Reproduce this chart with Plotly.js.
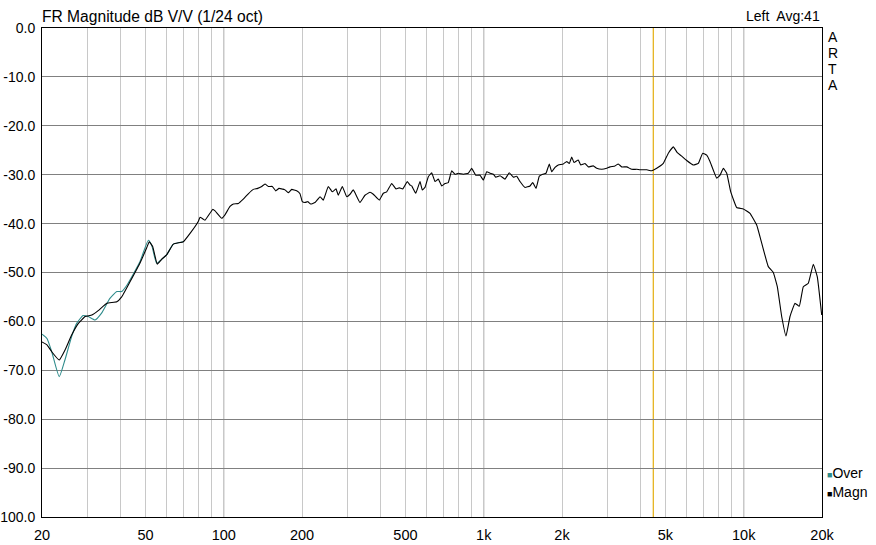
<!DOCTYPE html>
<html>
<head>
<meta charset="utf-8">
<script src="https://cdn.plot.ly/plotly-3.0.1.min.js"></script>
<style>html,body{margin:0;padding:0;background:#fff}#chart{width:876px;height:545px}</style>
</head>
<body>
<div id="chart"></div>
<script>
// Teal "Over" curve (Hz, dB) – only visible where it departs from Magn
const overFreq = [20, 20.9, 21.8, 23.3, 24.5, 26.0, 27.2, 28.8, 30.1, 32.0, 33.9, 36.5, 38.8, 40.5, 42.4, 47.6, 51.3, 52.8, 55.2, 57.7, 60.3, 64.0, 69.9];
const overDb = [-62.6, -63.5, -66.2, -71.3, -67.9, -63.1, -60.4, -58.8, -59.0, -59.7, -58.3, -55.3, -53.9, -53.9, -52.6, -47.8, -43.4, -44.4, -48.1, -47.3, -46.4, -44.2, -43.7];

// Black "Magn" curve (Hz, dB)
const magnFreq = [
  20, 20.9, 21.8, 23.3, 24.5, 26.0, 27.6, 29.3, 31.1, 32.9, 35.5, 38.8, 40.5, 43.6, 47.6, 50.5, 51.7, 53.3, 55.5, 57.7, 60.3, 64.0, 69.9, 74.2, 79.9,
  81.1, 84.7, 90.7, 92.6, 98.2, 101.1, 105.7, 108.9, 113.8, 118.9, 124.3, 129.9, 135.1, 140.0, 144.1, 148.4, 153.8, 158.4, 163.1, 167.1, 172.0, 177.1, 182.6, 190.8, 196.5,
  200.5, 205.4, 210.4, 216.0, 224.4, 234.6, 241.5, 252.4, 261.5, 270.3, 275.8, 285.8, 297.1, 306.0, 315.0, 334.3, 349.4, 365.3, 376.1, 396.7, 411.0, 423.6, 442.6, 459.8, 473.5, 487.9,
  508.2, 520.4, 528.4, 547.6, 568.8, 580.4, 594.4, 612.2, 630.9, 649.6, 668.9, 689.3, 709.6, 730.6, 752.9, 775.2, 798.4, 834.4, 872.1, 898.8, 931.4, 967.5, 996.4,
  1027, 1057, 1089, 1112, 1155, 1207, 1254, 1300, 1339, 1379, 1441, 1507, 1543, 1589, 1636, 1686, 1736, 1787, 1826, 1880, 1935,
  2023, 2085, 2134, 2180, 2224, 2310, 2361, 2452, 2524, 2638, 2720, 2843, 2972, 3060, 3198, 3292, 3393, 3547, 3708, 3876, 3991, 4236, 4426, 4627, 4904,
  5128, 5361, 5553, 5773, 6035, 6398, 6688, 6954, 7205, 7417, 7871, 8107, 8346, 8602, 8913, 9395, 9963,
  10570, 11216, 11726, 12431, 12995, 13463, 13996, 14540, 15066, 15748, 16358, 16948, 17716, 18518, 19186, 19947];
const magnDb = [
  -64.2, -64.8, -66.2, -67.9, -65.9, -62.8, -60.4, -59.0, -58.7, -57.8, -56.3, -56.0, -55.0, -51.9, -48.1, -45.0, -43.7, -44.7, -48.3, -47.3, -46.4, -44.2, -43.7, -42.0, -39.5,
  -38.7, -39.3, -37.1, -37.4, -38.9, -38.2, -36.5, -36.0, -35.9, -35.0, -33.9, -33.0, -32.8, -32.4, -31.9, -32.4, -32.4, -33.3, -32.8, -32.9, -33.1, -33.7, -33.0, -33.3, -33.9,
  -35.5, -35.7, -35.5, -36.0, -35.7, -34.5, -35.2, -32.4, -33.5, -32.9, -34.2, -32.4, -34.5, -34.0, -33.1, -35.7, -34.2, -33.6, -34.0, -35.2, -33.8, -33.5, -31.8, -32.9, -32.7, -32.9,
  -31.4, -32.1, -32.3, -33.8, -31.4, -33.1, -32.6, -30.4, -29.6, -31.4, -30.9, -32.3, -31.8, -31.6, -29.2, -29.9, -29.7, -29.9, -29.7, -28.7, -30.1, -30.1, -31.1,
  -29.4, -29.7, -29.9, -30.5, -30.2, -30.9, -29.6, -30.5, -30.3, -31.4, -32.6, -32.3, -31.6, -32.8, -30.3, -29.9, -29.7, -27.8, -29.4, -28.5, -28.0,
  -27.8, -27.3, -27.7, -26.4, -27.5, -27.0, -28.0, -27.7, -28.4, -28.2, -28.7, -28.9, -28.7, -28.4, -28.2, -27.8, -28.4, -28.4, -28.9, -28.9, -29.0, -29.0, -29.2, -28.7, -27.7,
  -25.6, -24.3, -25.5, -26.2, -27.1, -28.0, -27.7, -25.6, -26.0, -27.3, -30.7, -30.1, -28.7, -29.7, -33.5, -36.7, -37.0,
  -37.9, -40.3, -44.0, -48.8, -50.0, -52.9, -59.0, -63.0, -59.0, -56.3, -56.9, -52.9, -52.2, -48.3, -50.9, -58.7];

const xTickVals = [20, 50, 100, 200, 500, 1000, 2000, 5000, 10000, 20000];
const xTickText = ['20', '50', '100', '200', '500', '1k', '2k', '5k', '10k', '20k'];
const xMinorVals = [30, 40, 60, 70, 80, 90, 300, 400, 600, 700, 800, 900, 3000, 4000, 6000, 7000, 8000, 9000];
const decadeVals = [100, 1000, 10000];
const yTickVals = [0, -10, -20, -30, -40, -50, -60, -70, -80, -90, -100];
const yTickText = ['0.0', '-10.0', '-20.0', '-30.0', '-40.0', '-50.0', '-60.0', '-70.0', '-80.0', '-90.0', '100.0'];
const cursorFreq = 4490;
const seriesNames = ['Over', 'Magn'];
const seriesColors = ['#2e8b8b', '#000000'];
const artaLetters = ['A', 'R', 'T', 'A'];
const titleText = 'FR Magnitude dB V/V (1/24 oct)';
const statusText = 'Left  Avg:41';

const FONT = 'Liberation Sans, Arial, sans-serif';

const traces = [
  {x: overFreq, y: overDb, name: seriesNames[0], type: 'scatter', mode: 'lines',
   line: {color: seriesColors[0], width: 1.1, shape: 'spline', smoothing: 0.5}, showlegend: false, hoverinfo: 'skip'},
  {x: magnFreq, y: magnDb, name: seriesNames[1], type: 'scatter', mode: 'lines',
   line: {color: seriesColors[1], width: 1.1, shape: 'spline', smoothing: 0.3}, showlegend: false, hoverinfo: 'skip'}
];

const shapes = decadeVals.map(v => ({
  type: 'line', xref: 'x', yref: 'paper', x0: v, x1: v, y0: 0, y1: 1,
  line: {color: '#808080', width: 1}, layer: 'below'
}));
shapes.push({type: 'line', xref: 'x', yref: 'paper', x0: cursorFreq, x1: cursorFreq, y0: 0, y1: 1,
  line: {color: '#e6b422', width: 1.3}, layer: 'below'});

const annotations = [
  {text: statusText, xref: 'paper', yref: 'paper', x: 1, y: 1, xanchor: 'right', yanchor: 'bottom',
   yshift: 2, showarrow: false, font: {family: FONT, size: 14, color: '#000'}}
];
const artaY = [0.9816, 0.9489, 0.9162, 0.8834];
artaLetters.forEach((ch, i) => annotations.push({
  text: ch, xref: 'paper', yref: 'paper', x: 1.0141, y: artaY[i], xanchor: 'center', yanchor: 'middle',
  showarrow: false, font: {family: FONT, size: 14, color: '#000'}
}));
const legendY = [0.09, 0.051];
seriesNames.forEach((nm, i) => annotations.push({
  text: '<span style="color:' + seriesColors[i] + ';font-size:9px">■</span>' + nm, xref: 'paper', yref: 'paper',
  x: 1.004, y: legendY[i], xanchor: 'left', yanchor: 'middle', showarrow: false,
  font: {family: FONT, size: 14, color: '#000'}
}));

const layout = {
  width: 876, height: 545,
  margin: {l: 42, r: 54, t: 28, b: 28, pad: 0},
  paper_bgcolor: '#ffffff', plot_bgcolor: '#ffffff',
  font: {family: FONT, size: 14, color: '#000'},
  title: {text: titleText, x: 0, xref: 'paper', xanchor: 'left',
          y: 1 - 17 / 545, yref: 'container', yanchor: 'middle',
          font: {family: FONT, size: 15.6, color: '#000'}},
  showlegend: false,
  xaxis: {
    type: 'log', range: [Math.log10(20), Math.log10(20000)],
    tickmode: 'array', tickvals: xTickVals, ticktext: xTickText,
    showgrid: true, gridcolor: '#c8c8c8', gridwidth: 1,
    minor: {tickmode: 'array', tickvals: xMinorVals, showgrid: true, gridcolor: '#c8c8c8', gridwidth: 1, ticks: ''},
    ticks: '', ticklabelstandoff: 5,
    showline: true, mirror: true, linecolor: '#000', linewidth: 1,
    zeroline: false, tickfont: {family: FONT, size: 14.5, color: '#000'}
  },
  yaxis: {
    range: [-100, 0], tickmode: 'array', tickvals: yTickVals, ticktext: yTickText,
    showgrid: true, gridcolor: '#808080', gridwidth: 1,
    ticks: '', ticklabelstandoff: 3,
    showline: true, mirror: true, linecolor: '#000', linewidth: 1,
    zeroline: false, tickfont: {family: FONT, size: 14, color: '#000'}
  },
  shapes: shapes,
  annotations: annotations
};

Plotly.newPlot('chart', traces, layout, {displayModeBar: false, staticPlot: true});
</script>
</body>
</html>
